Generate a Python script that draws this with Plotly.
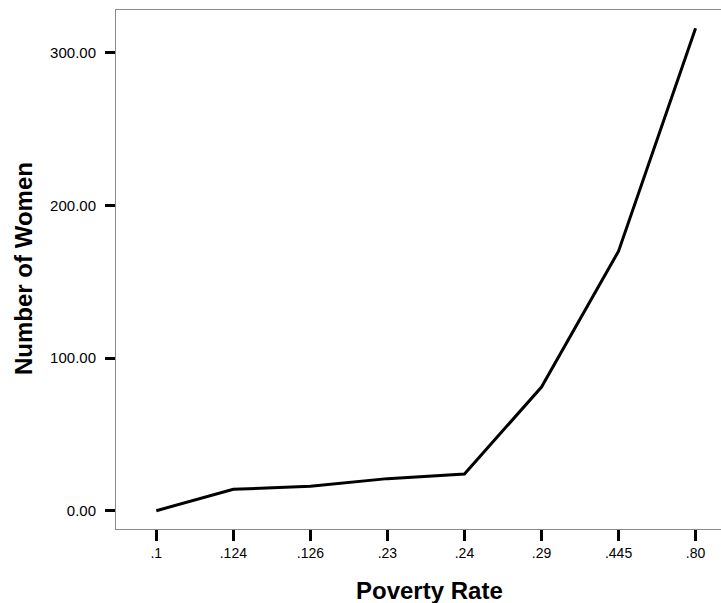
import plotly.graph_objects as go

categories = [".1", ".124", ".126", ".23", ".24", ".29", ".445", ".80"]
women = [0, 14, 16, 21, 24, 81, 170, 316]
y_ticks = [0, 100, 200, 300]
y_tick_labels = ["0.00", "100.00", "200.00", "300.00"]

FONT = "Liberation Sans, Arial, sans-serif"

fig = go.Figure()
fig.add_trace(go.Scatter(
    x=categories, y=women, mode="lines",
    line=dict(color="black", width=3),
    showlegend=False, hoverinfo="x+y",
))

fig.update_layout(
    width=721, height=603,
    margin=dict(l=116, r=0, t=10, b=74),
    paper_bgcolor="white", plot_bgcolor="white",
    font=dict(family=FONT, color="black"),
    xaxis=dict(
        type="category", categoryorder="array", categoryarray=categories,
        range=[-0.523, 7.33],
        showgrid=False, zeroline=False,
        showline=True, linecolor="#8a8a8a", linewidth=1, mirror=True,
        ticks="outside", ticklen=11, tickwidth=3, tickcolor="black",
        tickfont=dict(size=14, family=FONT, color="black"),
    ),
    yaxis=dict(
        range=[-12, 328],
        tickvals=y_ticks, ticktext=y_tick_labels,
        showgrid=False, zeroline=False,
        showline=True, linecolor="#8a8a8a", linewidth=1, mirror=False,
        ticks="outside", ticklen=10, tickwidth=3, tickcolor="black",
        ticklabelstandoff=6,
        tickfont=dict(size=15, family=FONT, color="black"),
    ),
    annotations=[
        dict(text="<b>Poverty Rate</b>", xref="paper", yref="paper",
             x=(429 - 116) / 605, y=-(590 - 529) / 519,
             xanchor="center", yanchor="middle", showarrow=False,
             font=dict(size=24, family=FONT, color="black")),
        dict(text="<b>Number of Women</b>", xref="paper", yref="paper",
             x=-(116 - 23) / 605, y=(529 - 269) / 519,
             xanchor="center", yanchor="middle", showarrow=False, textangle=-90,
             font=dict(size=24, family=FONT, color="black")),
    ],
)

fig.write_html(
    "out.html",
    config={"displayModeBar": False},
    post_script="document.body.style.margin='0';document.body.style.overflow='hidden';",
)
